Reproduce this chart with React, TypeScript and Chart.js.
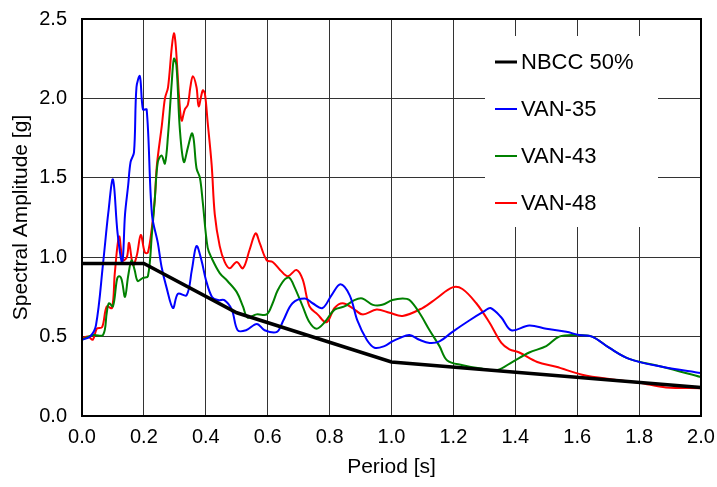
import React, { useEffect, useRef } from "react";
import { Chart, registerables } from "chart.js";

Chart.register(...registerables);

// ---- Data (period [s], spectral amplitude [g]) ----
const nbccT = [0, 0.2, 0.5, 1.0, 2.0];
const nbccSa = [0.96, 0.96, 0.65, 0.34, 0.18];

const van35T = [0, 0.026, 0.045, 0.068, 0.085, 0.1, 0.115, 0.13, 0.139, 0.149, 0.157, 0.168, 0.176, 0.187, 0.197, 0.209, 0.226, 0.245, 0.257, 0.273, 0.294, 0.31, 0.338, 0.355, 0.37, 0.386, 0.4, 0.42, 0.44, 0.46, 0.484, 0.503, 0.53, 0.565, 0.59, 0.63, 0.65, 0.68, 0.72, 0.745, 0.777, 0.806, 0.835, 0.865, 0.89, 0.92, 0.945, 0.977, 1.003, 1.026, 1.058, 1.09, 1.123, 1.155, 1.197, 1.25, 1.3, 1.32, 1.355, 1.387, 1.445, 1.5, 1.565, 1.606, 1.648, 1.703, 1.768, 1.874, 2.0];
const van35Sa = [0.48, 0.5, 0.57, 0.96, 1.28, 1.49, 1.15, 0.97, 1.27, 1.45, 1.6, 1.66, 2.07, 2.14, 1.93, 1.93, 1.27, 1.09, 0.94, 0.81, 0.68, 0.77, 0.76, 0.92, 1.07, 0.98, 0.86, 0.75, 0.73, 0.73, 0.67, 0.54, 0.54, 0.58, 0.54, 0.53, 0.6, 0.71, 0.74, 0.71, 0.68, 0.76, 0.83, 0.76, 0.6, 0.48, 0.43, 0.44, 0.47, 0.49, 0.51, 0.48, 0.46, 0.47, 0.53, 0.6, 0.66, 0.68, 0.62, 0.54, 0.57, 0.55, 0.53, 0.51, 0.5, 0.43, 0.36, 0.31, 0.27];

const van43T = [0, 0.036, 0.068, 0.08, 0.087, 0.1, 0.113, 0.12, 0.128, 0.139, 0.149, 0.16, 0.17, 0.18, 0.197, 0.213, 0.226, 0.235, 0.245, 0.257, 0.268, 0.278, 0.29, 0.297, 0.305, 0.316, 0.329, 0.342, 0.355, 0.361, 0.37, 0.381, 0.39, 0.406, 0.42, 0.445, 0.47, 0.5, 0.52, 0.535, 0.564, 0.597, 0.616, 0.632, 0.655, 0.67, 0.687, 0.713, 0.735, 0.758, 0.784, 0.816, 0.848, 0.88, 0.906, 0.94, 0.97, 1.003, 1.036, 1.058, 1.09, 1.123, 1.155, 1.18, 1.23, 1.284, 1.342, 1.39, 1.445, 1.5, 1.542, 1.597, 1.648, 1.703, 1.768, 1.874, 2.0];
const van43Sa = [0.48, 0.51, 0.51, 0.65, 0.71, 0.69, 0.86, 0.88, 0.86, 0.75, 0.88, 0.98, 0.92, 0.85, 0.87, 0.88, 1.15, 1.36, 1.6, 1.64, 1.59, 1.77, 2.1, 2.25, 2.21, 1.81, 1.6, 1.69, 1.78, 1.74, 1.56, 1.5, 1.35, 1.06, 0.99, 0.9, 0.85, 0.78, 0.69, 0.62, 0.64, 0.64, 0.71, 0.79, 0.86, 0.87, 0.81, 0.69, 0.59, 0.55, 0.59, 0.67, 0.69, 0.73, 0.74, 0.7, 0.7, 0.73, 0.74, 0.73, 0.65, 0.54, 0.44, 0.35, 0.32, 0.3, 0.29, 0.34, 0.4, 0.44, 0.5, 0.51, 0.5, 0.43, 0.36, 0.31, 0.245];

const van48T = [0, 0.02, 0.035, 0.048, 0.065, 0.08, 0.097, 0.106, 0.12, 0.132, 0.145, 0.152, 0.165, 0.177, 0.19, 0.203, 0.213, 0.226, 0.235, 0.242, 0.258, 0.268, 0.278, 0.29, 0.297, 0.303, 0.314, 0.322, 0.332, 0.342, 0.35, 0.358, 0.37, 0.377, 0.39, 0.397, 0.406, 0.419, 0.429, 0.445, 0.461, 0.477, 0.5, 0.52, 0.542, 0.561, 0.574, 0.597, 0.616, 0.64, 0.665, 0.693, 0.713, 0.735, 0.761, 0.79, 0.816, 0.842, 0.874, 0.906, 0.952, 0.994, 1.036, 1.1, 1.145, 1.197, 1.229, 1.274, 1.316, 1.355, 1.381, 1.413, 1.471, 1.532, 1.616, 1.713, 1.8, 1.887, 2.0];
const van48Sa = [0.49, 0.5, 0.48, 0.55, 0.56, 0.69, 0.68, 0.9, 1.13, 0.98, 1.0, 1.09, 0.95, 1.01, 1.14, 1.03, 1.03, 1.19, 1.36, 1.58, 1.83, 2.0, 2.07, 2.32, 2.41, 2.33, 2.0, 1.86, 1.93, 1.96, 2.07, 2.14, 2.07, 1.95, 2.05, 2.03, 1.85, 1.58, 1.27, 1.07, 0.97, 0.93, 0.97, 0.93, 1.05, 1.15, 1.09, 0.98, 0.97, 0.92, 0.88, 0.92, 0.86, 0.69, 0.64, 0.59, 0.68, 0.71, 0.68, 0.64, 0.67, 0.65, 0.63, 0.68, 0.74, 0.81, 0.8, 0.71, 0.59, 0.46, 0.42, 0.4, 0.34, 0.31, 0.26, 0.23, 0.21, 0.18, 0.175];

const seriesNames = ["NBCC 50%", "VAN-35", "VAN-43", "VAN-48"];
const seriesColors = ["#000000", "#0000ff", "#008000", "#ff0000"];
const seriesWidths = [3.5, 2, 2, 2];

const xTitle = "Period [s]";
const yTitle = "Spectral Amplitude [g]";

const FONT = "'Liberation Sans', Arial, sans-serif";

const toPoints = (t: number[], s: number[]) => t.map((x, i) => ({ x, y: s[i] }));

const insideLegend = {
  id: "insideLegend",
  beforeDatasetsDraw(chart: any) {
    const ctx = chart.ctx;
    const a = chart.chartArea;
    ctx.save();
    ctx.fillStyle = "#ffffff";
    ctx.fillRect(a.right - 216, a.top + 17, 173, 191);
    ctx.restore();
  },
  afterDraw(chart: any) {
    const ctx = chart.ctx;
    const a = chart.chartArea;
    ctx.save();
    // frame
    ctx.strokeStyle = "#000";
    ctx.lineWidth = 2;
    ctx.strokeRect(a.left, a.top, a.right - a.left, a.bottom - a.top);
    // legend entries
    const x0 = a.right - 206;
    ctx.font = `22px ${FONT}`;
    ctx.textBaseline = "middle";
    ctx.textAlign = "left";
    seriesNames.forEach((name, i) => {
      const y = a.top + 43 + i * 47;
      ctx.strokeStyle = seriesColors[i];
      ctx.lineWidth = i === 0 ? 3 : 2;
      ctx.beginPath();
      ctx.moveTo(x0, y);
      ctx.lineTo(x0 + 22, y);
      ctx.stroke();
      ctx.fillStyle = "#000";
      ctx.fillText(name, x0 + 26, y + 1);
    });
    ctx.restore();
  },
};

export default function App() {
  const ref = useRef<HTMLCanvasElement>(null);
  useEffect(() => {
    if (!ref.current) return;
    const series = [
      toPoints(nbccT, nbccSa),
      toPoints(van35T, van35Sa),
      toPoints(van43T, van43Sa),
      toPoints(van48T, van48Sa),
    ];
    const chart = new Chart(ref.current, {
      type: "line",
      data: {
        datasets: series.map((d, i) => ({
          label: seriesNames[i],
          data: d,
          borderColor: seriesColors[i],
          backgroundColor: seriesColors[i],
          borderWidth: seriesWidths[i],
          pointRadius: 0,
          fill: false,
          tension: i === 0 ? 0 : 0.35,
        })),
      },
      options: {
        responsive: false,
        animation: false,
        layout: { padding: { top: 19, right: 16, left: 0, bottom: 0 } },
        plugins: { legend: { display: false }, tooltip: { enabled: false } },
        scales: {
          x: {
            type: "linear",
            min: 0,
            max: 2,
            afterFit: (s: any) => { s.height = 71; s.paddingLeft = 0; s.paddingRight = 0; },
            ticks: {
              stepSize: 0.2,
              padding: 9,
              color: "#000",
              font: { family: FONT, size: 20 },
              maxRotation: 0,
              callback: (v: any) => Number(v).toFixed(1),
            },
            grid: { color: "#333", lineWidth: 1, drawTicks: false },
            border: { display: false },
            title: {
              display: true,
              text: xTitle,
              color: "#000",
              font: { family: FONT, size: 21 },
              padding: { top: 0, bottom: 7 },
            },
          },
          y: {
            type: "linear",
            min: 0,
            max: 2.5,
            afterFit: (s: any) => { s.width = 82; s.paddingTop = 0; s.paddingBottom = 0; },
            ticks: {
              stepSize: 0.5,
              padding: 15,
              color: "#000",
              font: { family: FONT, size: 20 },
              callback: (v: any) => Number(v).toFixed(1),
            },
            grid: { color: "#333", lineWidth: 1, drawTicks: false },
            border: { display: false },
            title: {
              display: true,
              text: yTitle,
              color: "#000",
              font: { family: FONT, size: 21 },
              padding: { top: 9, bottom: 0 },
            },
          },
        },
      },
      plugins: [insideLegend],
    });
    return () => chart.destroy();
  }, []);
  return (
    <canvas
      ref={ref}
      width={717}
      height={487}
      style={{ position: "absolute", left: 0, top: 0, width: 717, height: 487 }}
    />
  );
}
